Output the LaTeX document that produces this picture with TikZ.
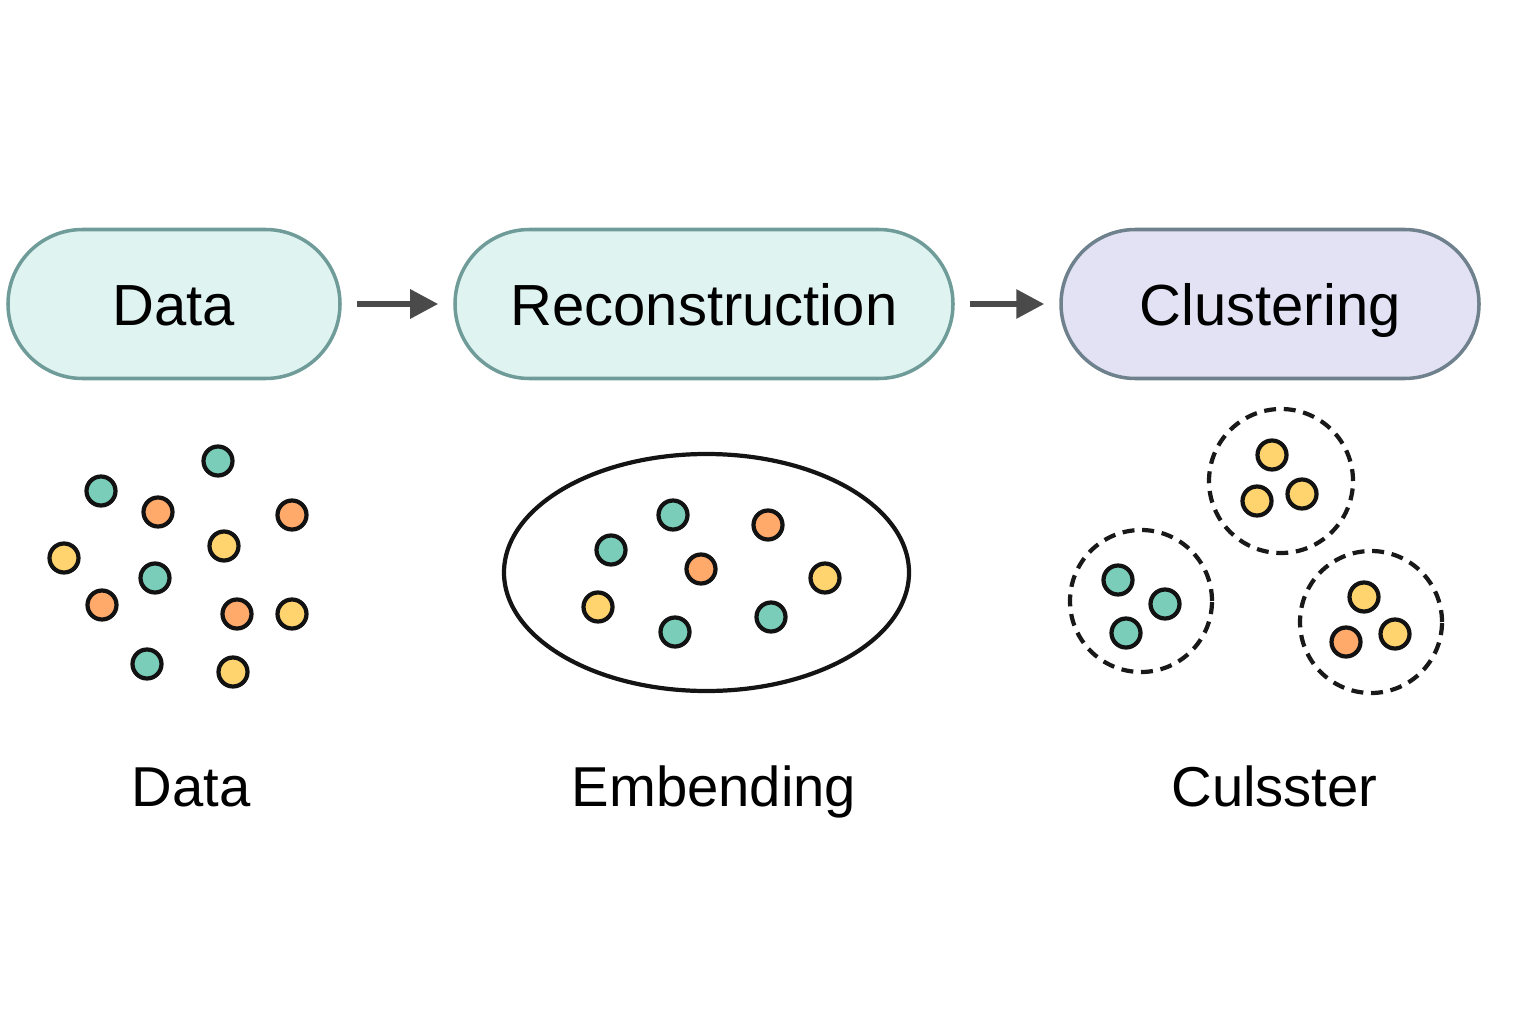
\documentclass[tikz,border=0pt]{standalone}
\usepackage{fontspec}
\setmainfont{Liberation Sans}
\usepackage{tikz}
\usetikzlibrary{arrows.meta,positioning,shapes.geometric}
\usepackage{xcolor}
\definecolor{pipeteal}{HTML}{DFF3F1}
\definecolor{pipetealedge}{HTML}{6F9C98}
\definecolor{pipelilac}{HTML}{E3E2F5}
\definecolor{pipelilacedge}{HTML}{6E818C}
\definecolor{pipearrow}{HTML}{4A4A4A}
\definecolor{ptteal}{HTML}{7ACDB9}
\definecolor{ptorange}{HTML}{FFA96B}
\definecolor{ptyellow}{HTML}{FFD46F}

\begin{document}
\begin{tikzpicture}[
  stage/.style={rectangle, rounded corners=0.745cm, line width=1pt,
                draw=pipetealedge, fill=pipeteal, minimum height=1.49cm,
                font=\fontsize{16.5}{20}\selectfont, text height=12.5pt, text depth=0pt},
  flow/.style={-{Triangle[length=0.28cm,width=0.28cm]}, line width=1.7pt,
               draw=pipearrow, shorten <=0.15cm, shorten >=0.15cm},
  point/.style={circle, draw=black!93, line width=1.2pt, minimum size=0.29cm,
                inner sep=0pt},
  group/.style={circle, draw=black!90, line width=1.2pt,
                dash pattern=on 3.4pt off 2.2pt, inner sep=0pt},
  caption/.style={anchor=base, font=\fontsize{16}{20}\selectfont}
]
\useasboundingbox (0,0) rectangle (15.36,10.24);

% pipeline
\node[stage, minimum width=3.32cm] (data) at (1.74,7.20) {Data};
\node[stage, minimum width=4.98cm] (recon) at (7.04,7.20) {Reconstruction};
\node[stage, minimum width=4.18cm, draw=pipelilacedge, fill=pipelilac]
  (clust) at (12.70,7.20) {Clustering};
\draw[flow] (data) -- (recon);
\draw[flow] (recon) -- (clust);

% raw data points
\foreach \x/\y/\c [count=\i] in {2.18/5.63/ptteal, 1.01/5.33/ptteal,
    1.58/5.12/ptorange, 2.92/5.09/ptorange, 2.24/4.78/ptyellow,
    0.64/4.66/ptyellow, 1.55/4.46/ptteal, 1.02/4.19/ptorange,
    2.37/4.10/ptorange, 2.92/4.10/ptyellow, 1.47/3.60/ptteal,
    2.33/3.52/ptyellow}
  \node[point, fill=\c] (raw\i) at (\x,\y) {};

% embedding
\node[ellipse, draw=black!92, line width=1.2pt, minimum width=4.05cm,
      minimum height=2.37cm] (embed) at (7.065,4.515) {};
\foreach \x/\y/\c [count=\i] in {6.73/5.09/ptteal, 7.68/4.99/ptorange,
    6.11/4.74/ptteal, 7.01/4.55/ptorange, 8.25/4.46/ptyellow,
    5.98/4.17/ptyellow, 6.75/3.92/ptteal, 7.71/4.07/ptteal}
  \node[point, fill=\c] (emb\i) at (\x,\y) {};

% clusters
\node[group, minimum size=1.42cm] (grpa) at (11.41,4.23) {};
\node[group, minimum size=1.44cm] (grpb) at (12.81,5.43) {};
\node[group, minimum size=1.42cm] (grpc) at (13.71,4.02) {};
\foreach \x/\y/\c [count=\i] in {11.18/4.44/ptteal, 11.65/4.20/ptteal,
    11.26/3.91/ptteal, 12.72/5.69/ptyellow, 12.57/5.23/ptyellow,
    13.02/5.30/ptyellow, 13.64/4.27/ptyellow, 13.46/3.82/ptorange,
    13.95/3.90/ptyellow}
  \node[point, fill=\c] (cl\i) at (\x,\y) {};

% captions
\node[caption] (capdata) at (1.91,2.18) {Data};
\node[caption] (capemb) at (7.14,2.18) {Embending};
\node[caption] (capclust) at (12.745,2.18) {Culsster};
\end{tikzpicture}
\end{document}
